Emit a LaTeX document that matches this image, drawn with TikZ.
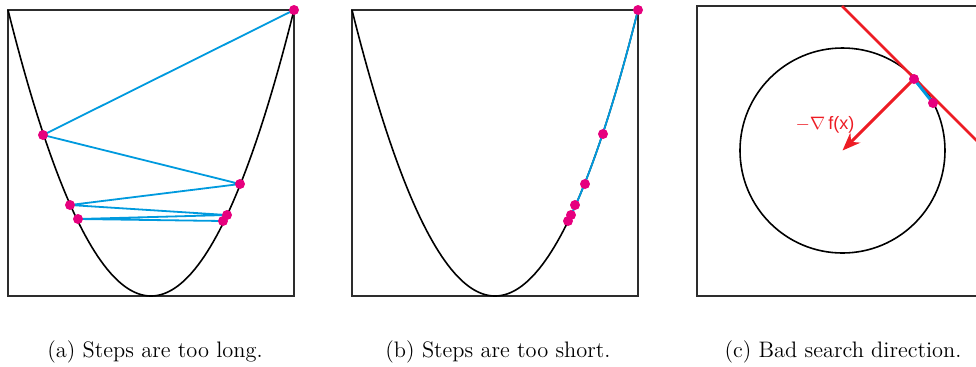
\documentclass[tikz,border=0pt]{standalone}
\usepackage{fontspec}
\setsansfont{Liberation Sans}
\usetikzlibrary{arrows.meta}
\definecolor{stepblue}{RGB}{0,154,222}
\definecolor{dotpink}{RGB}{230,0,126}
\definecolor{gradred}{RGB}{237,28,36}
\definecolor{boxgray}{RGB}{45,45,45}
\begin{document}
\begin{tikzpicture}[x=0.5pt,y=-0.5pt,>=Stealth,
  frame/.style={boxgray,line width=0.65pt},
  curve/.style={black,line width=0.8pt},
  stepline/.style={stepblue,line width=0.9pt,line join=round},
  caption/.style={font=\fontsize{11.2}{13}\selectfont},
  every node/.style={inner sep=1pt,outer sep=1pt}]
  \useasboundingbox (0,0) rectangle (976,366);
  % (a) steps too long
  \draw[frame] (8,10) rectangle (294,296);
  \draw[curve] plot[domain=8:294,samples=90] (\x,{296-286*((\x-151)/143)^2});
  \coordinate (a0) at (294,10);
  \coordinate (a1) at (43,135);
  \coordinate (a2) at (240,184);
  \coordinate (a3) at (70,205);
  \coordinate (a4) at (227,215);
  \coordinate (a5) at (78,219);
  \coordinate (a6) at (223,221);
  \draw[stepline] (a0)--(a1)--(a2)--(a3)--(a4)--(a5)--(a6);
  \foreach \p in {a0,a1,a2,a3,a4,a5,a6}
    \fill[dotpink] (\p) circle (5);
  \node[caption] (capa) at (155,352) {(a) Steps are too long.};
  % (b) steps too short
  \draw[frame] (352,10) rectangle (638,296);
  \draw[curve] plot[domain=352:638,samples=90] (\x,{296-286*((\x-495)/143)^2});
  \coordinate (b0) at (638,10);
  \coordinate (b1) at (603,134);
  \coordinate (b2) at (585,184);
  \coordinate (b3) at (575,205);
  \coordinate (b4) at (571,215);
  \coordinate (b5) at (568,221);
  \draw[stepline] plot[domain=568:638,samples=30] (\x,{296-286*((\x-495)/143)^2});
  \foreach \p in {b0,b1,b2,b3,b4,b5}
    \fill[dotpink] (\p) circle (5);
  \node[caption] (capb) at (498,352) {(b) Steps are too short.};
  % (c) bad search direction
  \begin{scope}
    \clip (0,0) rectangle (976,366);
    \draw[frame] (697,6) rectangle (1010,296);
    \coordinate (ctr) at (842.5,150.5);
    \draw[curve] (ctr) circle (102.5);
    \coordinate (c0) at (914,79);
    \coordinate (c1) at (933,103);
    \coordinate (tanA) at (842,6);
    \coordinate (tanB) at (990,154);
    \draw[gradred,line width=1.3pt] (tanA)--(tanB);
    \draw[stepblue,line width=1.5pt] (c0)--(c1);
    \draw[gradred,line width=1.5pt,-{Stealth[length=9pt,width=7pt]}] (c0)--(ctr);
    \fill[dotpink] (c0) circle (5);
    \fill[dotpink] (c1) circle (5);
    \node[gradred,font=\sffamily\small] (grad) at (825,125) {$-\nabla$\,f(x)};
  \end{scope}
  \node[caption] (capc) at (843,352) {(c) Bad search direction.};
\end{tikzpicture}
\end{document}
